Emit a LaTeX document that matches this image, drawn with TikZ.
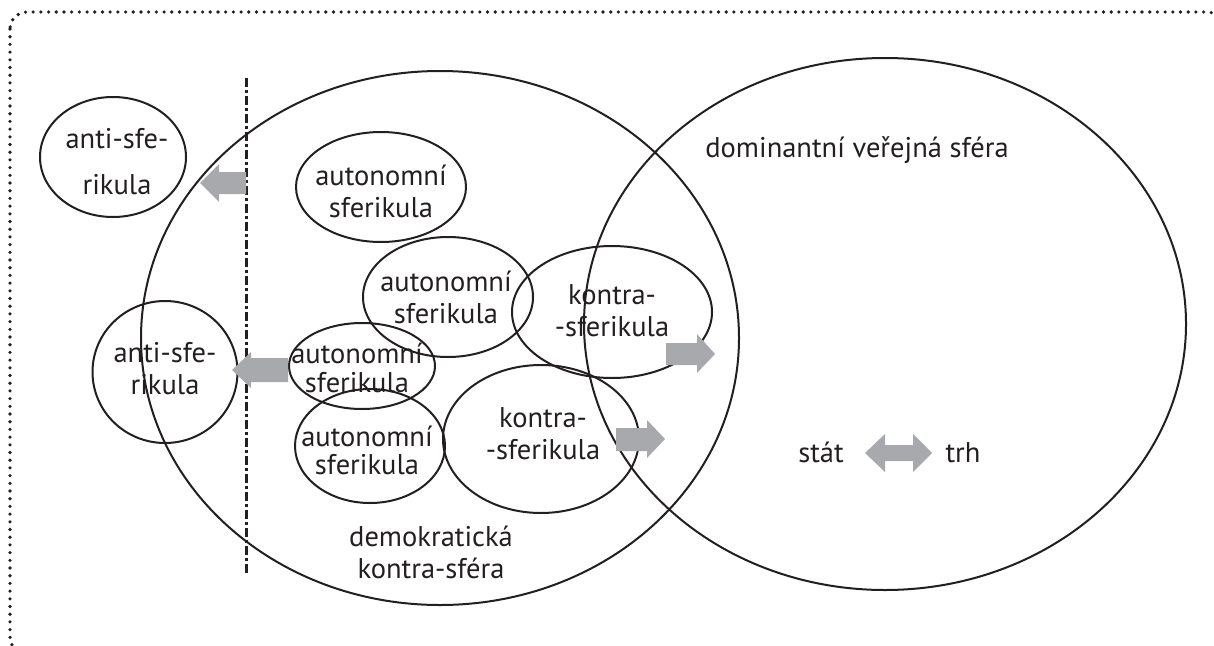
\documentclass[tikz,border=0pt]{standalone}
\usepackage{fontspec}
\setmainfont{PT Sans}
\usetikzlibrary{shapes.geometric}
\definecolor{arrowgray}{HTML}{A7A9AC}
\definecolor{ink}{HTML}{231F20}
\begin{document}
\begin{tikzpicture}[x=1pt,y=-1pt,
  ell/.style={draw=ink, ellipse, line width=2pt, inner sep=0pt},
  lbl/.style={text=ink, align=center, inner sep=0pt, font=\fontsize{28.5}{32}\selectfont},
  garrow/.style={fill=arrowgray, draw=none}]
\useasboundingbox (0,0) rectangle (1214,645);
% frame (extends past the right and bottom edges)
\draw[ink, line width=3.6pt, line cap=round, dash pattern=on 0pt off 7.7pt, rounded corners=17]
  (10,12) rectangle (1224,654);
% big spheres
\node[ell, minimum width=598, minimum height=534] (demo) at (440,338) {};
\node[ell, minimum width=602, minimum height=532] (dom) at (885,324) {};
% dash-dot line
\coordinate (dtop) at (246,78);
\coordinate (dbot) at (246,575);
\draw[ink, line width=3pt, dash pattern=on 9pt off 3pt on 3pt off 3pt] (dtop) -- (dbot);
% small ellipses
\node[ell, minimum width=146, minimum height=120] (anti1) at (113,157) {};
\node[ell, minimum width=145, minimum height=142] (anti2) at (165,372) {};
\node[ell, minimum width=170, minimum height=110] (aut1) at (381,187) {};
\node[ell, minimum width=170, minimum height=120] (aut2) at (448,297) {};
\node[ell, minimum width=200, minimum height=132] (kon1) at (612,312) {};
\node[ell, minimum width=146, minimum height=86] (aut3) at (362,366) {};
\node[ell, minimum width=150, minimum height=114] (aut4) at (370,446) {};
\node[ell, minimum width=196, minimum height=148] (kon2) at (541,439) {};
% labels
\node[lbl] (tanti1) at (117,162) {anti-sfe-\\[14pt]rikula};
\node[lbl] (tanti2) at (165,369) {anti-sfe-\\rikula};
\node[lbl] (taut1) at (381,191) {autonomní\\sferikula};
\node[lbl] (taut2) at (446,297) {autonomní\\sferikula};
\node[lbl] (tkon1) at (612,311) {kontra-\\-sferikula};
\node[lbl] (taut3) at (357,368) {autonomní\\[-3pt]sferikula};
\node[lbl] (taut4) at (367,450) {autonomní\\[-4pt]sferikula};
\node[lbl] (tkon2) at (543,434) {kontra-\\-sferikula};
\node[lbl] (tdemo) at (431,552) {demokratická\\kontra-sféra};
\node[lbl] (tdom) at (857,150) {dominantní veřejná sféra};
\node[lbl, anchor=base] (tstat) at (821,462) {stát};
\node[lbl, anchor=base] (ttrh) at (963,462) {trh};
% gray arrows
\fill[garrow] (246,172) -- (219,172) -- (219,164) -- (200,183) -- (219,202) -- (219,194) -- (246,194) -- cycle;
\fill[garrow] (288,358) -- (251,358) -- (251,352) -- (232,370) -- (251,388) -- (251,382) -- (288,382) -- cycle;
\fill[garrow] (666,343) -- (697,343) -- (697,334) -- (715,354) -- (697,373) -- (697,365) -- (666,365) -- cycle;
\fill[garrow] (616,428) -- (647,428) -- (647,420) -- (665,439) -- (647,458) -- (647,451) -- (616,451) -- cycle;
\fill[garrow] (865,453) -- (885,434) -- (885,445) -- (913,445) -- (913,434) -- (932,453) -- (913,472) -- (913,461) -- (885,461) -- (885,472) -- cycle;
\end{tikzpicture}
\end{document}
